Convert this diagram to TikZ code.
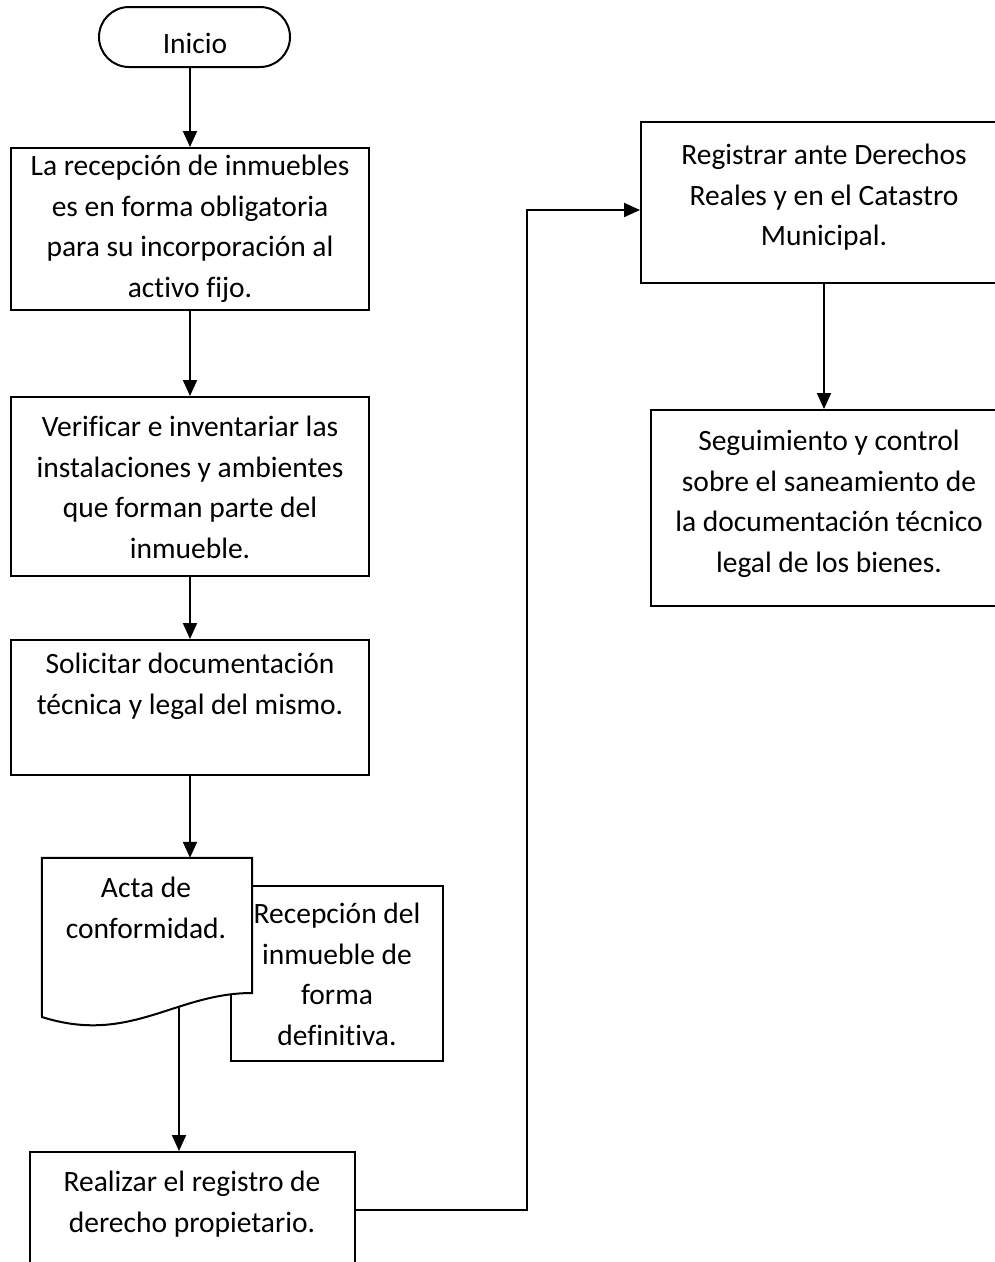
\documentclass[tikz,border=0pt]{standalone}
\usepackage{fontspec}
\setmainfont{Carlito}[Ligatures=NoCommon]
\usetikzlibrary{arrows.meta}
\begin{document}
\begin{tikzpicture}[x=1pt,y=-1pt,
  box/.style={draw,line width=2pt,fill=white,rectangle,inner sep=0pt},
  txt/.style={align=center,inner sep=0pt,anchor=north,font=\fontsize{29.5}{40.5}\selectfont},
  arr/.style={line width=2pt,-{Triangle[length=16pt,width=14pt]}},
  conn/.style={line width=2pt}]
\useasboundingbox (0,0) rectangle (995,1262);
\clip (0,0) rectangle (995,1262);
% Inicio
\node[box,rounded corners=30pt,minimum width=191pt,minimum height=60pt] (ini) at (194.5,37) {};
\node[txt] (tini) at (195,25) {\strut Inicio};
% box 1
\node[box,minimum width=358pt,minimum height=162pt] (b1) at (190,229) {};
\node[txt] (t1) at (190,147) {\strut La recepción de inmuebles\\es en forma obligatoria\\para su incorporación al\\activo fijo.};
% box 2
\node[box,minimum width=358pt,minimum height=179pt] (b2) at (190,486.5) {};
\node[txt] (t2) at (190,408) {\strut Verificar e inventariar las\\instalaciones y ambientes\\que forman parte del\\inmueble.};
% box 3
\node[box,minimum width=358pt,minimum height=135pt] (b3) at (190,707.5) {};
\node[txt] (t3) at (190,645) {\strut Solicitar documentación\\técnica y legal del mismo.};
% Recepcion box (behind document)
\node[box,minimum width=212pt,minimum height=175pt] (rec) at (337,973.5) {};
\node[txt] (trec) at (337,895) {\strut Recepción del\\inmueble de\\forma\\definitiva.};
% document shape
\node[minimum width=210pt,minimum height=170pt,inner sep=0pt] (doc) at (147,943) {};
\draw[line width=2pt,fill=white] (doc.north west) -- (doc.north east) -- (252,993)
  .. controls (175,993) and (130,1045) .. (42,1017) -- cycle;
\node[txt] (tdoc) at (146,869) {\strut Acta de\\conformidad.};
\coordinate (docout) at (179,1007);
% Realizar
\node[box,minimum width=325pt,minimum height=116pt] (b4) at (192.5,1210) {};
\node[txt] (t4) at (192,1163) {\strut Realizar el registro de\\derecho propietario.};
% Registrar
\node[box,minimum width=366pt,minimum height=161pt] (reg) at (824,202.5) {};
\node[txt] (treg) at (824,136) {\strut Registrar ante Derechos\\Reales y en el Catastro\\Municipal.};
% Seguimiento
\node[box,minimum width=356pt,minimum height=196pt] (seg) at (829,508) {};
\node[txt] (tseg) at (829,422) {\strut Seguimiento y control\\sobre el saneamiento de\\la documentación técnico\\legal de los bienes.};
% connectors
\draw[arr] (b1.north |- ini.south) -- (b1.north);
\draw[arr] (b1.south) -- (b2.north);
\draw[arr] (b2.south) -- (b3.north);
\draw[arr] (b3.south) -- (b3.south |- doc.north);
\draw[arr] (docout) -- (docout |- b4.north);
\coordinate (bend) at (527,210);
\draw[arr] (b4.east) -| (bend) -- (bend -| reg.west);
\draw[arr] (reg.south) -- (reg.south |- seg.north);
\end{tikzpicture}
\end{document}
